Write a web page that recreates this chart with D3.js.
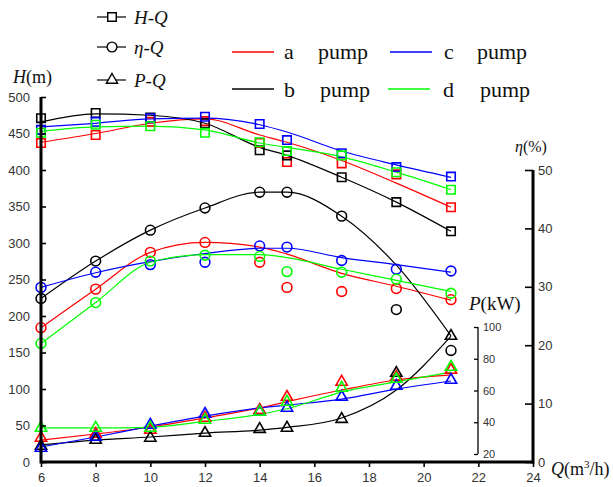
<!DOCTYPE html>
<html>
<head>
<meta charset="utf-8">
<script src="https://cdn.jsdelivr.net/npm/d3@7"></script>
<style>
  body { margin: 0; background: #fff; }
  .tick text { font-family: "Liberation Sans", Arial, sans-serif; font-size: 13px; fill: #333; }
  .serif { font-family: "Liberation Serif", "Times New Roman", serif; fill: #111; }
</style>
</head>
<body>
<script>
// flow rate Q (m3/h) of the measured points
const flow = [6, 8, 10, 12, 14, 15, 17, 19, 21]
const pumps = ["a", "b", "c", "d"]
const pumpColors = ["#ff0000", "#000000", "#0000ff", "#00ff00"]

// head H (m): measured points and fitted curve
const headPts = [
  [437, 448, 466, 467, 437, 411, 409, 394, 349],
  [471, 478, 472, 464, 427, 420, 390, 356, 316],
  [455, 466, 471, 473, 463, 441, 423, 404, 391],
  [451, 462, 460, 451, 438, 426, 420, 397, 373]
]
const headFit = [
  [438, 450, 464, 470, 448, 438, 413, 382, 349],
  [466, 477, 475, 464, 431, 420, 390, 356, 316],
  [459, 464, 470, 471, 462, 452, 426, 407, 390],
  [453, 459, 460, 455, 437, 431, 418, 397, 373]
]

// efficiency eta (%)
const effPts = [
  [23.0, 29.6, 35.9, 37.6, 34.2, 29.9, 29.2, 29.7, 27.8],
  [28.0, 34.4, 39.7, 43.5, 46.2, 46.2, 42.1, 26.1, 19.1],
  [29.9, 32.5, 33.8, 34.2, 37.0, 36.8, 34.5, 33.0, 32.7],
  [20.3, 27.3, 34.4, 35.4, 35.2, 32.6, 32.5, 31.3, 28.9]
]
const effFit = [
  [23.0, 29.6, 35.9, 37.6, 36.8, 35.6, 32.3, 30.1, 27.7],
  [28.0, 34.4, 39.7, 43.5, 46.2, 46.2, 42.1, 33.7, 21.6],
  [29.9, 32.4, 34.3, 35.7, 36.6, 36.6, 35.0, 33.8, 32.5],
  [20.3, 27.3, 34.2, 35.5, 35.5, 35.0, 33.0, 31.1, 29.2]
]

// shaft power P (kW)
const powPts = [
  [30.1, 32.6, 35.1, 42.7, 47.7, 55.9, 65.4, 68.5, 72.9],
  [25.0, 28.8, 30.1, 33.2, 35.7, 36.4, 42.0, 71.0, 94.3],
  [23.8, 30.7, 38.3, 45.2, 46.5, 49.0, 55.9, 62.8, 66.6],
  [36.4, 36.4, 36.4, 41.4, 46.5, 52.8, 61.6, 67.2, 74.8]
]
const powFit = [
  [28.8, 32.6, 37.0, 42.7, 49.0, 53.0, 60.3, 66.6, 69.8],
  [25.7, 28.8, 30.7, 33.2, 35.1, 36.8, 42.7, 60.3, 94.3],
  [24.4, 30.7, 37.6, 43.9, 49.0, 50.8, 54.6, 60.9, 66.0],
  [36.4, 36.4, 36.8, 40.5, 45.0, 48.5, 59.0, 65.4, 71.6]
]

const xTicks = [6, 8, 10, 12, 14, 16, 18, 20, 22, 24]
const hTicks = [0, 50, 100, 150, 200, 250, 300, 350, 400, 450, 500]
const effTicks = [0, 10, 20, 30, 40, 50]
const powTicks = [20, 40, 60, 80, 100]

function plot() {
  let svg = d3.select("body").append("svg")
    .attr("width", 613)
    .attr("height", 487)

  // scales
  let x = d3.scaleLinear().domain([6, 24]).range([41, 533])
  let yH = d3.scaleLinear().domain([0, 500]).range([462, 97])
  let yE = d3.scaleLinear().domain([0, 50]).range([462, 170])
  let yP = d3.scaleLinear().domain([20, 100]).range([454, 327])

  let groups = [
    {pts: headPts, fit: headFit, y: yH, shape: "square"},
    {pts: effPts, fit: effFit, y: yE, shape: "circle"},
    {pts: powPts, fit: powFit, y: yP, shape: "triangle"}
  ]

  let symbols = {
    square: d3.symbol().type(d3.symbolSquare).size(72),
    circle: d3.symbol().type(d3.symbolCircle).size(75),
    triangle: d3.symbol().type(d3.symbolTriangle).size(55)
  }

  // fitted curves
  groups.forEach(g => {
    let line = d3.line()
      .x((d, i) => x(flow[i]))
      .y(d => g.y(d))
      .curve(d3.curveMonotoneX)
    svg.append("g").selectAll("path")
      .data(g.fit)
      .enter().append("path")
      .attr("d", line)
      .attr("fill", "none")
      .attr("stroke", (d, i) => pumpColors[i])
      .attr("stroke-width", 1.2)
  })

  // measured points
  groups.forEach(g => {
    g.pts.forEach((series, k) => {
      svg.append("g").selectAll("path")
        .data(series)
        .enter().append("path")
        .attr("d", symbols[g.shape])
        .attr("transform", (d, i) => "translate(" + x(flow[i]) + "," + g.y(d) + ")")
        .attr("fill", "none")
        .attr("stroke", pumpColors[k])
        .attr("stroke-width", 1.6)
    })
  })

  // bottom axis
  let xAxis = svg.append("g").attr("transform", "translate(0,462)")
  xAxis.call(d3.axisBottom(x).tickValues(d3.range(7, 24, 2)).tickSize(4).tickFormat(""))
  xAxis.call(d3.axisBottom(x).tickValues(xTicks).tickSize(5).tickPadding(6))

  // left H axis
  let hAxis = svg.append("g").attr("transform", "translate(41,0)")
  hAxis.call(d3.axisLeft(yH).tickValues(d3.range(25, 500, 50)).tickSize(-3).tickFormat(""))
  hAxis.call(d3.axisLeft(yH).tickValues(hTicks).tickSize(-5).tickPadding(11))

  // right efficiency axis
  let eAxis = svg.append("g").attr("transform", "translate(533,0)")
  eAxis.call(d3.axisRight(yE).tickValues(d3.range(5, 50, 10)).tickSize(-4).tickFormat(""))
  eAxis.call(d3.axisRight(yE).tickValues(effTicks).tickSize(-8).tickPadding(5))

  // inner power axis
  let pAxis = svg.append("g").attr("transform", "translate(478,0)")
  pAxis.call(d3.axisRight(yP).tickValues(d3.range(30, 100, 20)).tickSize(-2).tickFormat(""))
  pAxis.call(d3.axisRight(yP).tickValues(powTicks).tickSize(-4).tickPadding(5))
  pAxis.selectAll(".tick text").style("font-size", "11px")

  ;[xAxis, hAxis, eAxis].forEach(a => {
    a.select(".domain").attr("stroke-width", 3)
    a.selectAll(".tick line").attr("stroke-width", 1.6)
  })
  xAxis.selectAll(".domain").attr("d", "M41,0H533")
  hAxis.selectAll(".domain").attr("d", "M0,97V463.5")
  eAxis.selectAll(".domain").attr("d", "M0,170V463.5")
  pAxis.selectAll(".domain").attr("d", "M0,327V454").attr("stroke-width", 1.3)
  pAxis.selectAll(".tick line").attr("stroke-width", 1.3)

  // axis titles
  let hTitle = svg.append("text").attr("class", "serif").attr("x", 13).attr("y", 83).style("font-size", "18px")
  hTitle.append("tspan").style("font-style", "italic").text("H")
  hTitle.append("tspan").text("(m)")

  let eTitle = svg.append("text").attr("class", "serif").attr("x", 515).attr("y", 152).style("font-size", "16px")
  eTitle.append("tspan").style("font-style", "italic").text("η")
  eTitle.append("tspan").text("(%)")

  let pTitle = svg.append("text").attr("class", "serif").attr("x", 469).attr("y", 310).style("font-size", "19px")
  pTitle.append("tspan").style("font-style", "italic").text("P")
  pTitle.append("tspan").text("(kW)")

  let qTitle = svg.append("text").attr("class", "serif").attr("x", 551).attr("y", 475).style("font-size", "18px")
  qTitle.append("tspan").style("font-style", "italic").text("Q")
  qTitle.append("tspan").text("(m")
  qTitle.append("tspan").attr("dy", -7).style("font-size", "11px").text("3")
  qTitle.append("tspan").attr("dy", 7).text("/h)")

  // symbol legend
  let symLegend = [
    {shape: "square", label: "H-Q", y: 17},
    {shape: "circle", label: "η-Q", y: 47},
    {shape: "triangle", label: "P-Q", y: 80}
  ]
  symLegend.forEach(s => {
    svg.append("line").attr("x1", 97).attr("x2", 126).attr("y1", s.y).attr("y2", s.y)
      .attr("stroke", "#000").attr("stroke-width", 1.2)
    svg.append("path").attr("d", symbols[s.shape])
      .attr("transform", "translate(112," + s.y + ")")
      .attr("fill", "#fff").attr("stroke", "#000").attr("stroke-width", 1.4)
    svg.append("text").attr("class", "serif").attr("x", 134).attr("y", s.y + 7)
      .style("font-size", "19px").style("font-style", "italic").text(s.label)
  })

  // pump legend
  let pumpLegend = [
    {k: 0, lx: 232, tx: 284, px: 318, y: 52, by: 59},
    {k: 2, lx: 390, tx: 444, px: 477, y: 52, by: 59},
    {k: 1, lx: 232, tx: 284, px: 320, y: 89, by: 97},
    {k: 3, lx: 388, tx: 443, px: 480, y: 89, by: 97}
  ]
  pumpLegend.forEach(p => {
    svg.append("line").attr("x1", p.lx).attr("x2", p.lx + 42).attr("y1", p.y).attr("y2", p.y)
      .attr("stroke", pumpColors[p.k]).attr("stroke-width", 1.4)
    let t = svg.append("text").attr("class", "serif").attr("y", p.by).style("font-size", "22px")
    t.append("tspan").attr("x", p.tx).text(pumps[p.k])
    t.append("tspan").attr("x", p.px).text("pump")
  })
}

function main() {
  plot()
}

main()
</script>
</body>
</html>
